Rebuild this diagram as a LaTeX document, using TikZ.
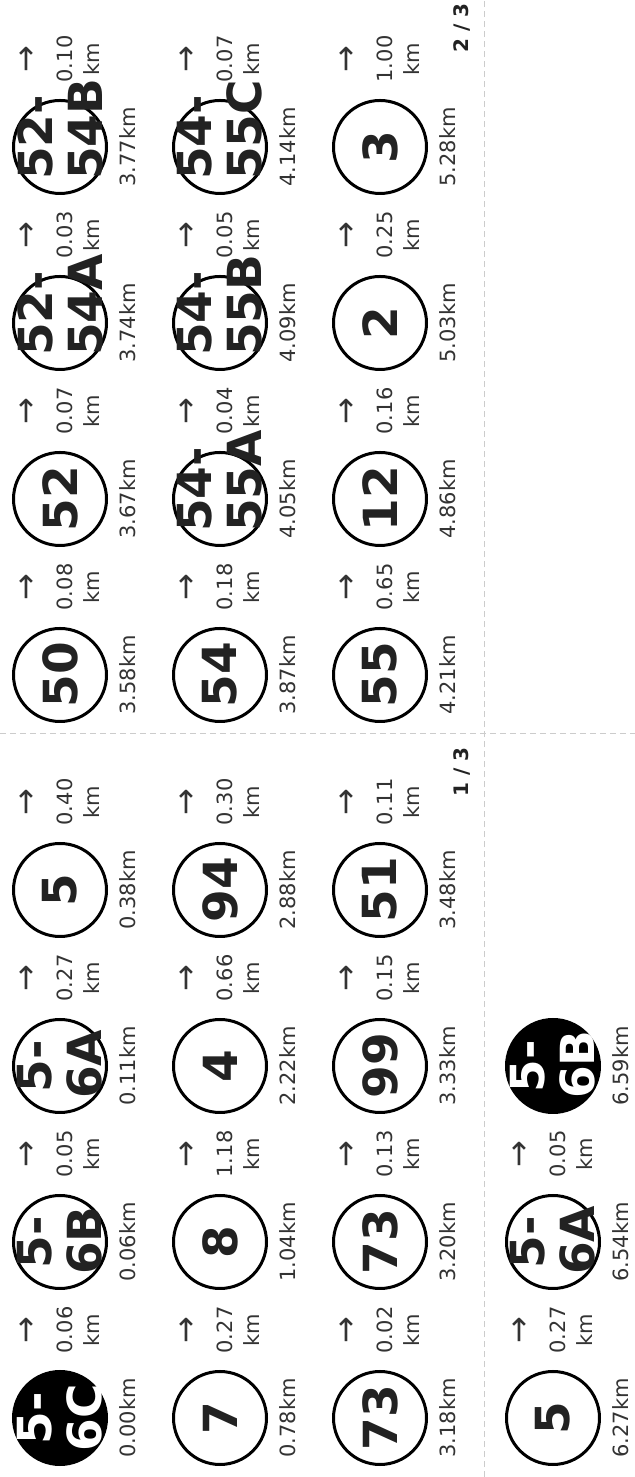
\documentclass[tikz,border=0pt]{standalone}
\usepackage{fontspec}
\setmainfont{DejaVu Sans}
\usetikzlibrary{calc}
\definecolor{ink}{HTML}{222222}
\definecolor{smallink}{HTML}{333333}
\definecolor{cutgray}{HTML}{CCCCCC}
\tikzset{
  stopW/.style={circle, draw=black, fill=white, line width=2.25pt,
                minimum size=69.75pt, inner sep=0pt},
  stopB/.style={circle, draw=black, fill=black, line width=2.25pt,
                minimum size=69.75pt, inner sep=0pt},
  lblW/.style={text=ink, font=\bfseries\fontsize{35.25}{37.5}\selectfont,
               text width=49.5pt, align=center, inner sep=0pt},
  lblB/.style={lblW, text=white},
  dist/.style={text=smallink, font=\fontsize{15.75}{20.25}\selectfont,
               inner sep=0pt},
  leg/.style={text=smallink, font=\fontsize{15.75}{20.25}\selectfont,
              align=center, inner sep=0pt},
  arr/.style={text=smallink, font=\fontsize{24}{24}\selectfont, inner sep=0pt},
  pagenum/.style={text=ink, font=\bfseries\fontsize{15}{18}\selectfont,
                  inner sep=0pt, anchor=base east},
  cut/.style={draw=cutgray, line width=0.75pt, dash pattern=on 4.5pt off 3pt},
}

\begin{document}
\begin{tikzpicture}[x=0.75pt, y=0.75pt, rotate=90, transform shape]
    \useasboundingbox (0,0) rectangle (1477,-635);
    \draw[cut] (0,-484) -- (1477,-484);
    \draw[cut] (743,0) -- (743,-635);
    \foreach \n/\u/\v/\s/\t/\d in {
      a1/59/60/B/{5-\\6C}/0.00km, a2/235/60/W/{5-\\6B}/0.06km,
      a3/411/60/W/{5-\\6A}/0.11km, a4/587/60/W/5/0.38km,
      b1/59/220/W/7/0.78km, b2/235/220/W/8/1.04km,
      b3/411/220/W/4/2.22km, b4/587/220/W/94/2.88km,
      c1/59/380/W/73/3.18km, c2/235/380/W/73/3.20km,
      c3/411/380/W/99/3.33km, c4/587/380/W/51/3.48km,
      d1/802/60/W/50/3.58km, d2/978/60/W/52/3.67km,
      d3/1154/60/W/{\mbox{52-}\\54A}/3.74km,
      d4/1330/60/W/{\mbox{52-}\\54B}/3.77km,
      e1/802/220/W/54/3.87km, e2/978/220/W/{\mbox{54-}\\55A}/4.05km,
      e3/1154/220/W/{\mbox{54-}\\55B}/4.09km,
      e4/1330/220/W/{\mbox{54-}\\55C}/4.14km,
      f1/802/380/W/55/4.21km, f2/978/380/W/12/4.86km,
      f3/1154/380/W/2/5.03km, f4/1330/380/W/3/5.28km,
      g1/59/553/W/5/6.27km, g2/235/553/W/{5-\\6A}/6.54km,
      g3/411/553/B/{5-\\6B}/6.59km}{
      \node[stop\s] (\n) at (\u,-\v) {};
      \node[lbl\s] (\n l) at (\n) {\t};
      \node[dist] (\n d) at (\u,-\v-68) {\d};
    }
    \foreach \n/\k in {a1/0.06, a2/0.05, a3/0.27, a4/0.40,
                       b1/0.27, b2/1.18, b3/0.66, b4/0.30,
                       c1/0.02, c2/0.13, c3/0.15, c4/0.11,
                       d1/0.08, d2/0.07, d3/0.03, d4/0.10,
                       e1/0.18, e2/0.04, e3/0.05, e4/0.07,
                       f1/0.65, f2/0.16, f3/0.25, f4/1.00,
                       g1/0.27, g2/0.05}{
      \node[arr] (\n r) at ($(\n)+(88,32)$) {→};
      \node[leg] (\n k) at ($(\n)+(88,-18)$) {\k\\km};
    }
    \node[pagenum] (p1) at (730,-468) {1 / 3};
    \node[pagenum] (p2) at (1474,-468) {2 / 3};
  \end{tikzpicture}
\end{document}
